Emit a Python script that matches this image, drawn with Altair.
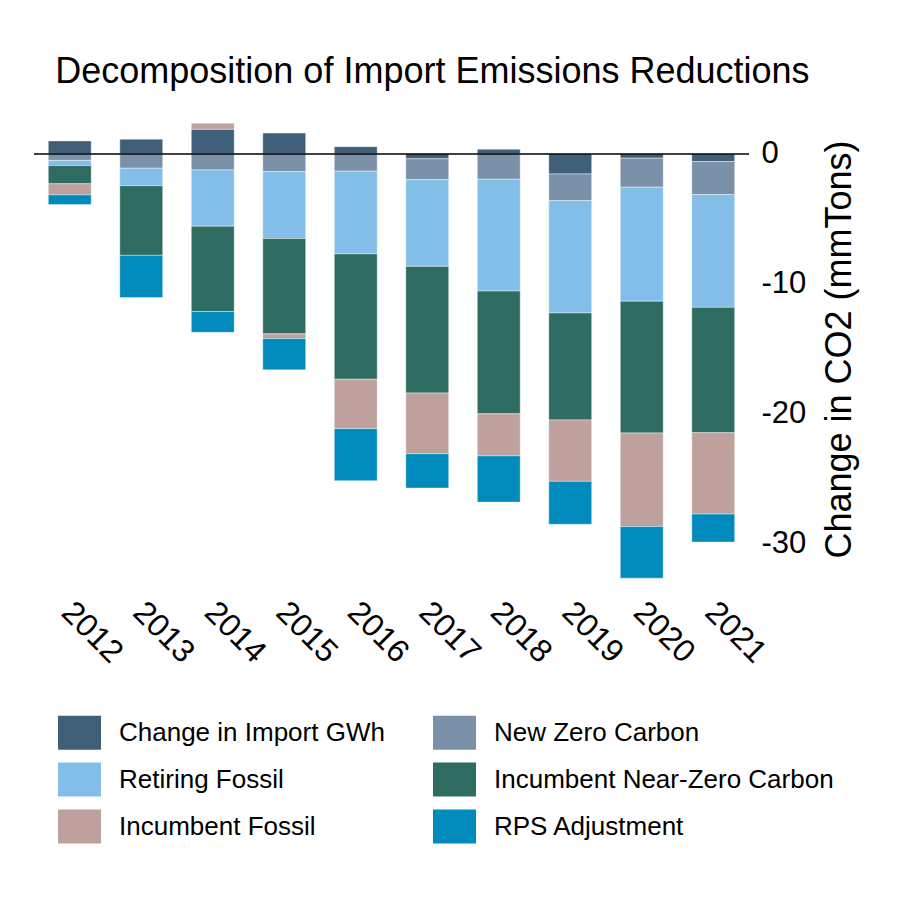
import altair as alt
import pandas as pd

years = ["2012", "2013", "2014", "2015", "2016", "2017", "2018", "2019", "2020", "2021"]
series = ["Change in Import GWh", "New Zero Carbon", "Retiring Fossil",
          "Incumbent Near-Zero Carbon", "Incumbent Fossil", "RPS Adjustment"]
colors = ["#40607a", "#7b91a8", "#82bee8", "#2e6c62", "#bea19c", "#008bbc"]

import_gwh = [1.0, 1.15, 1.9, 1.6, 0.56, -0.38, 0.36, -1.54, -0.33, -0.59]
new_zero = [-0.5, -1.1, -1.23, -1.36, -1.33, -1.6, -1.95, -2.05, -2.23, -2.54]
retiring = [-0.4, -1.35, -4.33, -5.15, -6.36, -6.67, -8.6, -8.64, -8.77, -8.67]
inc_nz = [-1.4, -5.35, -6.56, -7.33, -9.64, -9.74, -9.44, -8.23, -10.13, -9.64]
inc_fossil = [-0.85, 0.0, 0.45, -0.36, -3.8, -4.67, -3.23, -4.72, -7.2, -6.26]
rps = [-0.75, -3.25, -1.6, -2.4, -4.0, -2.64, -3.56, -3.3, -3.97, -2.15]

values = [import_gwh, new_zero, retiring, inc_nz, inc_fossil, rps]
rows = []
for si, (name, vals) in enumerate(zip(series, values)):
    for y, v in zip(years, vals):
        rows.append({"year": y, "series": name, "order": si, "value": v})
df = pd.DataFrame(rows)

FONT = "Liberation Sans"

bars = alt.Chart(df).mark_bar(stroke="white", strokeWidth=0.4).encode(
    x=alt.X("year:N", sort=years, title=None,
            scale=alt.Scale(paddingInner=0.4, paddingOuter=0.2),
            axis=alt.Axis(labelAngle=45, labelAlign="left", labelBaseline="top",
                          labelFontSize=32, labelPadding=0, labelOffset=8,
                          ticks=False, domain=False,
                          labelFont=FONT, labelColor="black")),
    y=alt.Y("value:Q", stack="zero",
            scale=alt.Scale(domain=[-34, 3.3], nice=False, zero=False),
            axis=alt.Axis(orient="right", values=[0, -10, -20, -30],
                          labelExpr="(datum.value < 0 ? '-' : '') + abs(datum.value)",
                          grid=False, domain=False, ticks=False,
                          labelAlign="left", labelPadding=12, labelFontSize=31,
                          labelFont=FONT, labelColor="black",
                          title="Change in CO2 (mmTons)", titleFontSize=36,
                          titleFont=FONT, titleFontWeight="normal", titleColor="black",
                          titleAngle=270, titleX=90, titleY=238,
                          titleAlign="center", titleBaseline="middle")),
    color=alt.Color("series:N", sort=series,
                    scale=alt.Scale(domain=series, range=colors),
                    legend=alt.Legend(title=None, orient="none", legendX=24, legendY=600,
                                      columns=2, direction="horizontal",
                                      symbolType="M-1,-0.79H1V0.79H-1Z",
                                      symbolSize=1849, symbolStrokeWidth=0,
                                      labelFontSize=26, labelFont=FONT, labelColor="black",
                                      labelOffset=18, labelLimit=500,
                                      columnPadding=48, rowPadding=8)),
    order=alt.Order("order:Q", sort="ascending"),
)

zero = alt.Chart(pd.DataFrame({"v": [0]})).mark_rule(color="black", strokeWidth=1.5).encode(
    y="v:Q"
)

chart = alt.layer(bars, zero).properties(
    width=715, height=485,
    background="white",
    padding={"left": 25, "top": 46, "right": 5, "bottom": 5},
    title=alt.TitleParams("Decomposition of Import Emissions Reductions",
                          anchor="start", dx=22, fontSize=36, font=FONT,
                          fontWeight="normal", color="black", offset=20),
).configure_view(strokeWidth=0, stroke="transparent")

chart.save("out.html", embed_options={"renderer": "svg", "actions": False})
